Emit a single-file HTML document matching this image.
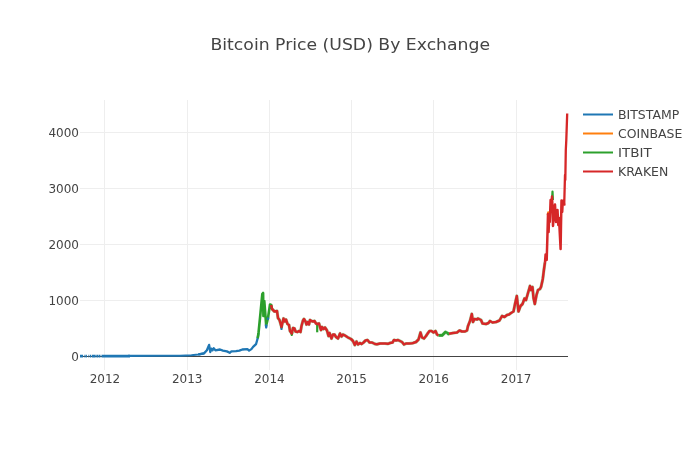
<!DOCTYPE html>
<html><head><meta charset="utf-8"><title>Bitcoin Price (USD) By Exchange</title>
<style>
html,body{margin:0;padding:0;background:#fff;}
body{width:700px;height:450px;overflow:hidden;}
svg{display:block;}
text{font-family:"DejaVu Sans","Liberation Sans",sans-serif;fill:#444;}
.tick{font-size:12px;}
.grid line{stroke:#eee;stroke-width:1;shape-rendering:crispEdges;}
.tr{fill:none;stroke-linejoin:round;stroke-linecap:butt;}
</style></head><body>
<svg width="700" height="450" viewBox="0 0 700 450">
<rect width="700" height="450" fill="#fff"/>
<g class="grid">
<line x1="104.5" x2="104.5" y1="100" y2="370"/>
<line x1="187.5" x2="187.5" y1="100" y2="370"/>
<line x1="269.5" x2="269.5" y1="100" y2="370"/>
<line x1="351.5" x2="351.5" y1="100" y2="370"/>
<line x1="433.5" x2="433.5" y1="100" y2="370"/>
<line x1="516.5" x2="516.5" y1="100" y2="370"/>
<line x1="80" x2="568" y1="300.5" y2="300.5"/>
<line x1="80" x2="568" y1="244.5" y2="244.5"/>
<line x1="80" x2="568" y1="188.5" y2="188.5"/>
<line x1="80" x2="568" y1="132.5" y2="132.5"/>
</g>
<line x1="80" x2="568" y1="356.5" y2="356.5" stroke="#444" stroke-width="1" shape-rendering="crispEdges"/>
<g id="traces">
<path class="tr" stroke="#1f77b4" stroke-width="2.6" d="M80.0,356.15H83.1M84.0,356.15H84.6M85.4,356.15H86.9M88.3,356.15H88.9M89.7,356.15H91.0M91.7,356.15H95.7M96.3,356.15H98.3M98.7,356.15H100.1M100.6,356.15H101.5M102.0,356.15H130.0"/>
<path class="tr" stroke="#1f77b4" stroke-width="2.1" d="M128.0,355.9L160.0,355.8L180.0,355.8L191.4,355.2L198.3,354.5L204.0,353.4"/>
<path class="tr" stroke="#1f77b4" stroke-width="2.3" d="M198.3,354.5L204.0,353.4L206.9,350.3L209.1,344.9L210.3,352.0L211.4,348.6L212.6,350.3L213.7,348.3L215.4,350.3L220.0,349.5L222.9,350.6L226.9,351.4L229.7,352.8L231.4,351.4L236.0,351.2L239.4,350.6L242.3,349.5L247.4,349.1L249.1,350.6L251.4,349.1L253.1,346.9L256.0,344.2L257.7,338.3L258.5,333.0"/>
<path class="tr" stroke="#2ca02c" stroke-width="2.6" d="M257.7,338.3L258.5,333.0L260.5,313.0L262.3,294.0L263.1,293.0L263.4,316.0L264.3,301.0L266.2,325.5L268.0,318.0L270.0,304.5L271.2,305.0L272.0,309.0"/>
<path class="tr" stroke="#1f77b4" stroke-width="2.2" d="M281.0,325.0L281.5,329.0L282.0,325.0"/>
<path class="tr" stroke="#2ca02c" stroke-width="2.2" d="M291.3,332.0L291.8,335.0L292.3,332.0"/>
<path class="tr" stroke="#2ca02c" stroke-width="2.2" d="M317.2,323.0L317.2,332.3"/>
<path class="tr" stroke="#2ca02c" stroke-width="2.2" d="M552.1,200.0L552.5,191.5L552.9,200.0"/>
<path class="tr" stroke="#ff7f0e" stroke-width="2" d="M547.6,215.0L548.2,212.2L548.8,215.0"/>
<path class="tr" stroke="#2ca02c" stroke-width="2.5" d="M438.5,335.5L440.0,335.2L442.0,335.5L443.5,334.0L445.5,332.0L447.5,333.0L448.5,334.0L449.0,333.8"/>
<path class="tr" stroke="#2ca02c" stroke-opacity="0.4" stroke-width="3.2" d="M272.0,309.0L274.5,311.5L277.0,311.0L278.0,318.0L279.5,320.0L281.5,327.0L283.5,318.5L284.8,321.5L286.0,319.5L287.5,324.0L289.0,325.0L290.0,331.0L291.8,333.5L293.0,328.0L294.5,328.5L295.5,331.5L297.5,332.0L299.0,331.0L300.5,332.0L301.5,326.0L303.0,320.5L304.0,319.0L305.5,321.5L306.5,324.5L308.0,322.0L309.0,324.5L310.0,320.0L311.5,321.0L313.0,321.5L314.5,321.0L316.0,323.5L317.2,324.0L319.0,323.5L320.0,327.0L321.0,330.0L322.0,327.0L323.5,329.0L325.0,327.5L327.0,330.5L328.5,336.0L329.5,333.0L331.5,338.5L333.0,334.5L334.5,334.5L336.0,337.0L338.0,338.5L340.0,333.5L341.5,336.5L343.0,334.5L345.0,335.5L348.0,337.5L351.0,339.0L353.0,341.0L354.8,345.0L356.5,341.5L358.0,344.5L360.0,343.0L361.5,344.0L363.5,342.5L365.5,340.5L367.5,340.0L369.5,342.5L372.0,342.5L375.0,344.0L377.0,344.3L380.0,343.5L385.0,343.5L388.0,343.8L390.0,343.0L392.5,342.5L394.0,340.0L396.0,340.5L398.0,340.0L400.0,341.0L402.0,342.0L404.0,344.5L406.0,343.5L409.0,343.5L412.0,343.2L413.0,343.0L416.0,342.0L418.5,339.5L420.5,332.5L422.0,337.5L424.0,338.5L426.0,336.0L428.0,333.0L429.5,331.0L431.5,331.0L433.5,332.5L435.5,331.0L437.0,334.5L438.5,335.5L438.5,335.5L440.0,335.2L442.0,335.5L443.5,334.0L445.5,332.0L447.5,333.0L448.5,334.0L449.0,333.8L449.0,333.8L453.0,333.0L457.0,332.5L459.5,330.5L462.0,331.5L465.0,331.5L467.0,330.5L468.0,326.0L470.0,321.0L471.8,314.0L473.0,322.0L474.5,319.0L477.0,319.5L478.0,318.5L481.0,320.0L482.5,323.5L486.0,324.0L488.5,323.0L490.0,321.0L492.5,322.5L496.0,322.0L499.5,320.5L502.0,316.0L504.5,317.0L507.0,315.0L509.0,314.5L511.0,313.0L513.5,311.5L515.0,304.0L516.8,296.0L518.5,311.5L520.5,306.0L522.5,304.0L524.5,298.5L526.0,300.0L528.0,293.0L530.0,286.0L531.0,290.0L532.5,287.0L533.5,298.0L534.8,304.0L536.5,295.0L538.0,290.0L540.0,289.0L541.1,286.7L542.8,278.9L543.9,270.0L545.0,262.2"/>
<path class="tr" stroke="#d62728" stroke-width="2.5" d="M271.2,305.0L272.0,309.0L274.5,311.5L277.0,311.0L278.0,318.0L279.5,320.0L281.5,327.0L283.5,318.5L284.8,321.5L286.0,319.5L287.5,324.0L289.0,325.0L290.0,331.0L291.8,333.5L293.0,328.0L294.5,328.5L295.5,331.5L297.5,332.0L299.0,331.0L300.5,332.0L301.5,326.0L303.0,320.5L304.0,319.0L305.5,321.5L306.5,324.5L308.0,322.0L309.0,324.5L310.0,320.0L311.5,321.0L313.0,321.5L314.5,321.0L316.0,323.5L317.2,324.0L319.0,323.5L320.0,327.0L321.0,330.0L322.0,327.0L323.5,329.0L325.0,327.5L327.0,330.5L328.5,336.0L329.5,333.0L331.5,338.5L333.0,334.5L334.5,334.5L336.0,337.0L338.0,338.5L340.0,333.5L341.5,336.5L343.0,334.5L345.0,335.5L348.0,337.5L351.0,339.0L353.0,341.0L354.8,345.0L356.5,341.5L358.0,344.5L360.0,343.0L361.5,344.0L363.5,342.5L365.5,340.5L367.5,340.0L369.5,342.5L372.0,342.5L375.0,344.0L377.0,344.3L380.0,343.5L385.0,343.5L388.0,343.8L390.0,343.0L392.5,342.5L394.0,340.0L396.0,340.5L398.0,340.0L400.0,341.0L402.0,342.0L404.0,344.5L406.0,343.5L409.0,343.5L412.0,343.2L413.0,343.0L416.0,342.0L418.5,339.5L420.5,332.5L422.0,337.5L424.0,338.5L426.0,336.0L428.0,333.0L429.5,331.0L431.5,331.0L433.5,332.5L435.5,331.0L437.0,334.5L438.5,335.5"/>
<path class="tr" stroke="#d62728" stroke-width="2.5" d="M449.0,333.8L453.0,333.0L457.0,332.5L459.5,330.5L462.0,331.5L465.0,331.5L467.0,330.5L468.0,326.0L470.0,321.0L471.8,314.0L473.0,322.0L474.5,319.0L477.0,319.5L478.0,318.5L481.0,320.0L482.5,323.5L486.0,324.0L488.5,323.0L490.0,321.0L492.5,322.5L496.0,322.0L499.5,320.5L502.0,316.0L504.5,317.0L507.0,315.0L509.0,314.5L511.0,313.0L513.5,311.5L515.0,304.0L516.8,296.0L518.5,311.5L520.5,306.0L522.5,304.0L524.5,298.5L526.0,300.0L528.0,293.0L530.0,286.0L531.0,290.0L532.5,287.0L533.5,298.0L534.8,304.0L536.5,295.0L538.0,290.0L540.0,289.0L541.1,286.7L542.8,278.9L543.9,270.0L545.0,262.2L545.6,254.4L546.7,260.0L547.3,240.0L548.0,214.0L548.6,232.0L549.2,216.0L549.8,222.0L550.6,200.0L551.3,212.0L552.0,196.5L552.6,210.0L553.0,226.0L553.8,215.0L555.0,204.5L556.0,222.0L557.5,210.0L558.3,225.0L559.0,218.0L560.6,249.0L561.0,225.0L561.5,200.5L562.2,212.0L562.8,201.0L563.5,200.5L564.2,205.5"/>
<path class="tr" stroke="#d62728" stroke-width="2.3" d="M564.2,205.5L565.0,175.0L565.3,180.0L565.8,150.0L566.3,140.0L567.2,113.5"/>
<path class="tr" stroke="#1f77b4" stroke-width="2.2" d="M265.8,324.5L266.2,327.5L266.6,325.0"/>
<path class="tr" stroke="#1f77b4" stroke-width="2.2" d="M267.7,319.8L268.3,317.5"/>
</g>
<g class="tick" text-anchor="middle">
<text x="104.9" y="383">2012</text>
<text x="187.2" y="383">2013</text>
<text x="269.4" y="383">2014</text>
<text x="351.6" y="383">2015</text>
<text x="433.7" y="383">2016</text>
<text x="516.1" y="383">2017</text>
</g>
<g class="tick" text-anchor="end">
<text x="79" y="360.7">0</text>
<text x="79" y="304.7">1000</text>
<text x="79" y="248.7">2000</text>
<text x="79" y="192.7">3000</text>
<text x="79" y="136.7">4000</text>
</g>
<g class="tick">
<line x1="583" x2="613" y1="114.5" y2="114.5" stroke="#1f77b4" stroke-width="2"/>
<text x="618" y="119" textLength="61.2" lengthAdjust="spacingAndGlyphs">BITSTAMP</text>
<line x1="583" x2="613" y1="133.5" y2="133.5" stroke="#ff7f0e" stroke-width="2"/>
<text x="618" y="138" textLength="64.3" lengthAdjust="spacingAndGlyphs">COINBASE</text>
<line x1="583" x2="613" y1="152.5" y2="152.5" stroke="#2ca02c" stroke-width="2"/>
<text x="618" y="157" textLength="33.7" lengthAdjust="spacingAndGlyphs">ITBIT</text>
<line x1="583" x2="613" y1="171.5" y2="171.5" stroke="#d62728" stroke-width="2"/>
<text x="618" y="176" textLength="50.3" lengthAdjust="spacingAndGlyphs">KRAKEN</text>
</g>
<text x="350.3" y="50" text-anchor="middle" style="font-size:16.2px" textLength="279.6" lengthAdjust="spacingAndGlyphs">Bitcoin Price (USD) By Exchange</text>
</svg>
</body></html>
